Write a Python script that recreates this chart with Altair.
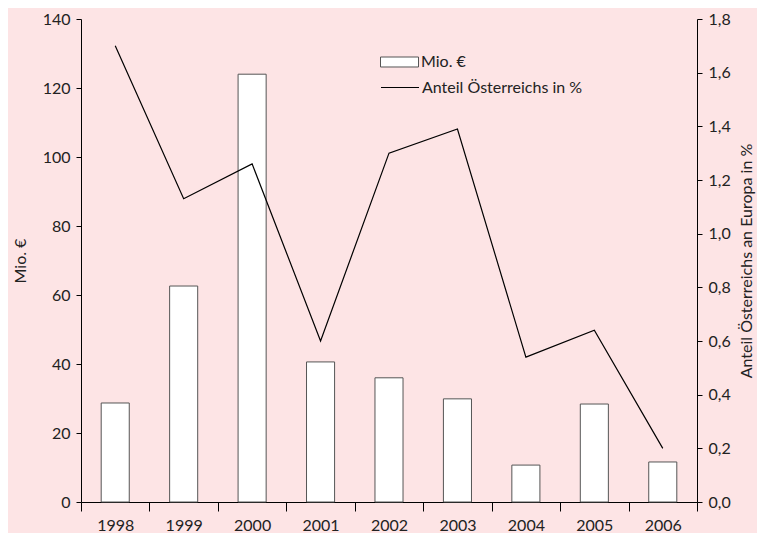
import altair as alt
import pandas as pd

years = ["1998", "1999", "2000", "2001", "2002", "2003", "2004", "2005", "2006"]
mio = [28.7, 62.6, 124.0, 40.6, 36.0, 29.9, 10.7, 28.4, 11.6]
anteil = [1.70, 1.13, 1.26, 0.60, 1.30, 1.39, 0.54, 0.64, 0.20]
left_ticks = [0, 20, 40, 60, 80, 100, 120, 140]
right_ticks = [0.0, 0.2, 0.4, 0.6, 0.8, 1.0, 1.2, 1.4, 1.6, 1.8]

df = pd.DataFrame({
    "Jahr": years,
    "Mio": mio,
    "Anteil": anteil,
    "s1": "Mio. €",
    "s2": "Anteil Österreichs in %",
})

FONT = "Lato"
TXT = "#222222"
FS = 16

x = alt.X(
    "Jahr:N", title=None,
    scale=alt.Scale(paddingInner=0, paddingOuter=0),
    axis=alt.Axis(labelAngle=0, tickBand="extent", tickSize=9, labelPadding=6,
                  domainColor="black", tickColor="black", labelFontSize=FS,
                  labelColor=TXT, labelFont=FONT),
)

bars = alt.Chart(df).mark_bar(
    width=alt.RelativeBandSize(0.41), stroke="#555555", strokeWidth=1
).encode(
    x=x,
    y=alt.Y("Mio:Q", title="Mio. €",
            scale=alt.Scale(domain=[0, 140], nice=False),
            axis=alt.Axis(values=left_ticks, tickSize=5, grid=False,
                          domainColor="black", tickColor="black",
                          labelFontSize=FS, labelColor=TXT, labelFont=FONT,
                          labelPadding=6, titleFontSize=FS, titleFont=FONT,
                          titleColor=TXT, titleFontWeight="normal",
                          titlePadding=14)),
    fill=alt.Fill("s1:N", scale=alt.Scale(range=["white"]),
                  legend=alt.Legend(
                      title=None, orient="none", legendX=299, legendY=23.5,
                      padding=0,
                      symbolType="M-1,-0.263L1,-0.263L1,0.263L-1,0.263Z",
                      symbolSize=1444, symbolStrokeColor="#555555",
                      symbolStrokeWidth=1, labelFontSize=FS, labelFont=FONT,
                      labelColor=TXT, labelOffset=2, labelLimit=0)),
)

line = alt.Chart(df).mark_line(color="black", strokeWidth=1.2).encode(
    x=x,
    y=alt.Y("Anteil:Q", title="Anteil Österreichs an Europa in %",
            scale=alt.Scale(domain=[0, 1.8], nice=False),
            axis=alt.Axis(orient="right", values=right_ticks, tickSize=5,
                          grid=False, domainColor="black", tickColor="black",
                          labelExpr="replace(format(datum.value, '.1f'), '.', ',')",
                          labelFontSize=FS, labelColor=TXT, labelFont=FONT,
                          labelPadding=6, titleFontSize=FS, titleFont=FONT,
                          titleColor=TXT, titleFontWeight="normal",
                          titleAngle=270, titlePadding=24)),
    stroke=alt.Stroke("s2:N", scale=alt.Scale(range=["black"]),
                      legend=alt.Legend(
                          title=None, orient="none", legendX=299, legendY=48.5,
                          padding=0, symbolType="stroke", symbolSize=1444,
                          symbolStrokeWidth=1.2, labelFontSize=FS,
                          labelFont=FONT, labelColor=TXT, labelOffset=2,
                          labelLimit=0)),
)

chart = alt.layer(bars, line).resolve_scale(
    y="independent"
).properties(
    width=616, height=483, autosize="none",
    padding={"left": 73, "top": 11, "right": 60, "bottom": 31},
    background="#fde4e5",
).configure_view(stroke=None)

chart.save("out.html", embed_options={"renderer": "svg", "actions": False})
